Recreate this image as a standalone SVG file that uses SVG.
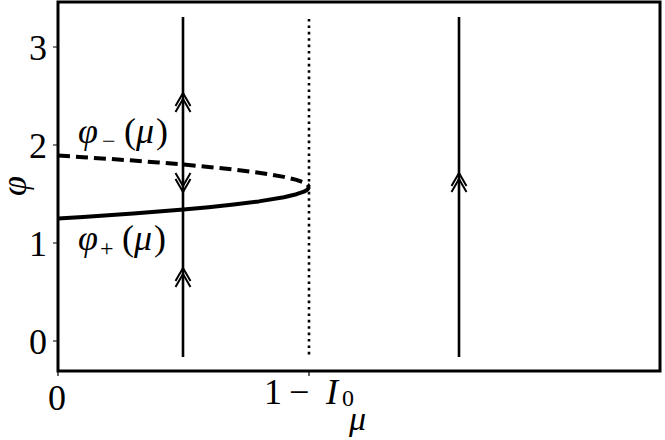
<svg xmlns="http://www.w3.org/2000/svg" width="665" height="440" viewBox="0 0 665 440">
<style>
.frame{fill:none;stroke:#000;stroke-width:3}
.tick{stroke:#000;stroke-width:1.2}
.traj{stroke:#000;stroke-width:2.6;fill:none}
.chev{stroke:#000;stroke-width:2;fill:none}
.dot{stroke:#000;stroke-width:2.6;stroke-dasharray:2.6 3.8;fill:none}
.stab{stroke:#000;stroke-width:4;fill:none;stroke-linejoin:round}
.unst{stroke:#000;stroke-width:4;fill:none;stroke-dasharray:12 6}
.num{font-family:"Liberation Serif",serif;font-size:36px;fill:#000}
.mth{font-family:"Liberation Serif",serif;font-style:italic;font-size:36px;fill:#000}
.sub{font-family:"Liberation Serif",serif;font-size:24px;fill:#000}
</style>
<rect class="frame" x="58" y="2" width="602" height="369"/>
<g id="ticks">
<path class="tick" d="M53 47H58M53 145H58M53 243H58M53 341H58M58 371V376M309 371V376"/>
</g>
<g id="labels">
<text class="num" x="47" y="60" text-anchor="end">3</text>
<text class="num" x="47" y="158" text-anchor="end">2</text>
<text class="num" x="47" y="256" text-anchor="end">1</text>
<text class="num" x="47" y="354" text-anchor="end">0</text>
<text class="num" x="57" y="410" text-anchor="middle">0</text>
<text class="num" x="264" y="404">1</text>
<text class="num" x="289" y="404">−</text>
<text class="mth" x="326" y="404">I</text>
<text class="sub" x="342" y="406">0</text>
<text class="mth" x="349" y="430" style="font-size:34px">μ</text>
<text class="mth" x="0" y="0" transform="translate(26,186) rotate(-90)" text-anchor="middle">φ</text>
<text class="mth" x="78" y="143">φ</text>
<text class="sub" x="102" y="149">−</text>
<text class="num" x="124" y="143">(</text>
<text class="mth" x="136" y="143">μ</text>
<text class="num" x="156" y="143">)</text>
<text class="mth" x="78" y="250">φ</text>
<text class="sub" x="100" y="256">+</text>
<text class="num" x="122" y="250">(</text>
<text class="mth" x="134" y="250">μ</text>
<text class="num" x="154" y="250">)</text>
</g>
<g id="curves">
<polyline class="unst" points="58,155.6 83.1,157.2 108.2,158.8 133.3,160.6 158.4,162.5 183.5,164.6 208.6,166.9 233.7,169.6 258.8,172.7 283.9,176.9 296.45,179.9 303.98,182.5 306.5,183.8 307.7,184.8 309,187.1"/>
<polyline class="stab" points="309,187.1 307.7,189.3 306.5,190.3 303.98,191.6 296.45,194.2 283.9,197.2 258.8,201.4 233.7,204.5 208.6,207.2 183.5,209.5 158.4,211.6 133.3,213.55 108.2,215.3 83.1,216.95 58,218.5"/>
</g>
<g id="connectors">
<line class="traj" x1="183" y1="17" x2="183" y2="357"/>
<line class="traj" x1="459" y1="17" x2="459" y2="357"/>
<line class="dot" x1="309" y1="19" x2="309" y2="357"/>
<path class="chev" d="M175.5 106L183 93L190.5 106M175.5 112L183 99L190.5 112"/>
<path class="chev" d="M175.5 173L183 186L190.5 173M175.5 179L183 192L190.5 179"/>
<path class="chev" d="M175.5 281L183 268L190.5 281M175.5 287L183 274L190.5 287"/>
<path class="chev" d="M451.5 186L459 173L466.5 186M451.5 192L459 179L466.5 192"/>
</g>
</svg>
